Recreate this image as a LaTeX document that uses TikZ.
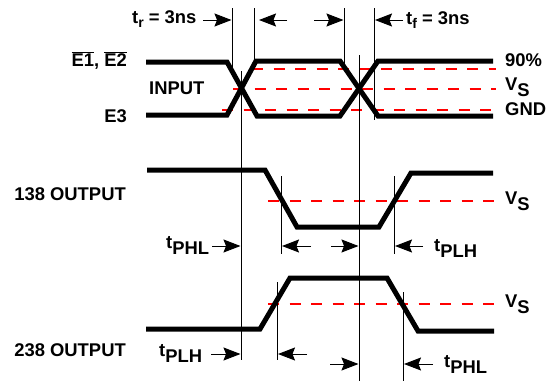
\documentclass[tikz,border=0pt]{standalone}
\usepackage{fontspec}
\setmainfont{Liberation Sans}
\usetikzlibrary{arrows.meta}
\newcommand{\subtxt}[2]{#1\raisebox{-6pt}{#2}}
\newcommand{\subsmall}[2]{#1\raisebox{-4.5pt}{\fontsize{14pt}{16pt}\selectfont #2}}
\tikzset{
  x=1pt,y=-1pt,
  trace/.style={line width=5pt,line join=miter,black},
  vline/.style={line width=0.9pt,black},
  refline/.style={line width=1.1pt,red,dash pattern=on 11pt off 10.5pt},
  timearrow/.style={line width=1pt,-{Stealth[length=17pt,width=13pt,inset=2.5pt]}},
  lbl/.style={anchor=base west,inner sep=0pt,font=\bfseries\fontsize{18.4pt}{20pt}\selectfont},
  lblr/.style={lbl,anchor=base east}
}
\begin{document}
\begin{tikzpicture}
\useasboundingbox (0,0) rectangle (557,381);
% reference levels
\draw[refline] (252,69) -- (496,69);
\draw[refline] (233,89) -- (496,89);
\draw[refline] (222,110) -- (496,110);
\draw[refline] (268,201) -- (496,201);
\draw[refline] (268,304) -- (496,304);
% traces
\draw[trace] (146,62) -- (227,62) -- (257,116) -- (340,116) -- (378,61) -- (493,61);
\draw[trace] (146,115) -- (227,115) -- (256,61) -- (340,61) -- (378,116) -- (493,116);
\draw[trace] (147,170) -- (265,170) -- (297,227) -- (379,227) -- (411,173) -- (493,173);
\draw[trace] (146,329) -- (260,329) -- (290,278) -- (387,278) -- (418,331) -- (494,331);
% vertical lines
\draw[vline] (232,8) -- (232,69);
\draw[vline] (254,8) -- (254,62);
\draw[vline] (344,8) -- (344,65);
\draw[vline] (374,8) -- (374,120);
\draw[vline] (241,71) -- (241,360);
\draw[vline] (359,55) -- (359,381);
\draw[vline] (281,176) -- (281,254);
\draw[vline] (394,176) -- (394,254);
\draw[vline] (277,282) -- (277,360);
\draw[vline] (403,292) -- (403,381);
% arrows
\draw[timearrow] (203,20) -- (231.5,20);
\draw[timearrow] (287,20) -- (259,20);
\draw[timearrow] (314,20) -- (343.5,20);
\draw[timearrow] (403,20) -- (375,20);
\draw[timearrow] (212,246) -- (240.5,246);
\draw[timearrow] (311,246) -- (282,246);
\draw[timearrow] (331,246) -- (358.5,246);
\draw[timearrow] (423,246) -- (395,246);
\draw[timearrow] (211,354) -- (240.5,354);
\draw[timearrow] (307,354) -- (278,354);
\draw[timearrow] (330,364) -- (358.5,364);
\draw[timearrow] (433,364) -- (404,364);
% labels
\node[lbl] (tr) at (132,23) {\subsmall{t}{r} = 3ns};
\node[lbl] (tf) at (406,24) {\subsmall{t}{f} = 3ns};
\node[lblr] (e12) at (127,66) {$\overline{\hbox{E1}}$, $\overline{\hbox{E2}}$};
\node[lblr] (e3) at (127,122) {E3};
\node[lbl] (input) at (149,94) {INPUT};
\node[lbl] (p90) at (505,66) {90\%};
\node[lbl] (vs1) at (505,90) {\subtxt{V}{S}};
\node[lbl] (gnd) at (505,115) {GND};
\node[lblr] (o138) at (126,200) {138 OUTPUT};
\node[lblr] (o238) at (126,356) {238 OUTPUT};
\node[lbl] (vs2) at (505,204) {\subtxt{V}{S}};
\node[lbl] (vs3) at (505,307) {\subtxt{V}{S}};
\node[lbl] (tphl1) at (166,248) {\subtxt{t}{PHL}};
\node[lbl] (tplh1) at (434,251) {\subtxt{t}{PLH}};
\node[lbl] (tplh2) at (159,356) {\subtxt{t}{PLH}};
\node[lbl] (tphl2) at (444,367) {\subtxt{t}{PHL}};
\end{tikzpicture}
\end{document}
